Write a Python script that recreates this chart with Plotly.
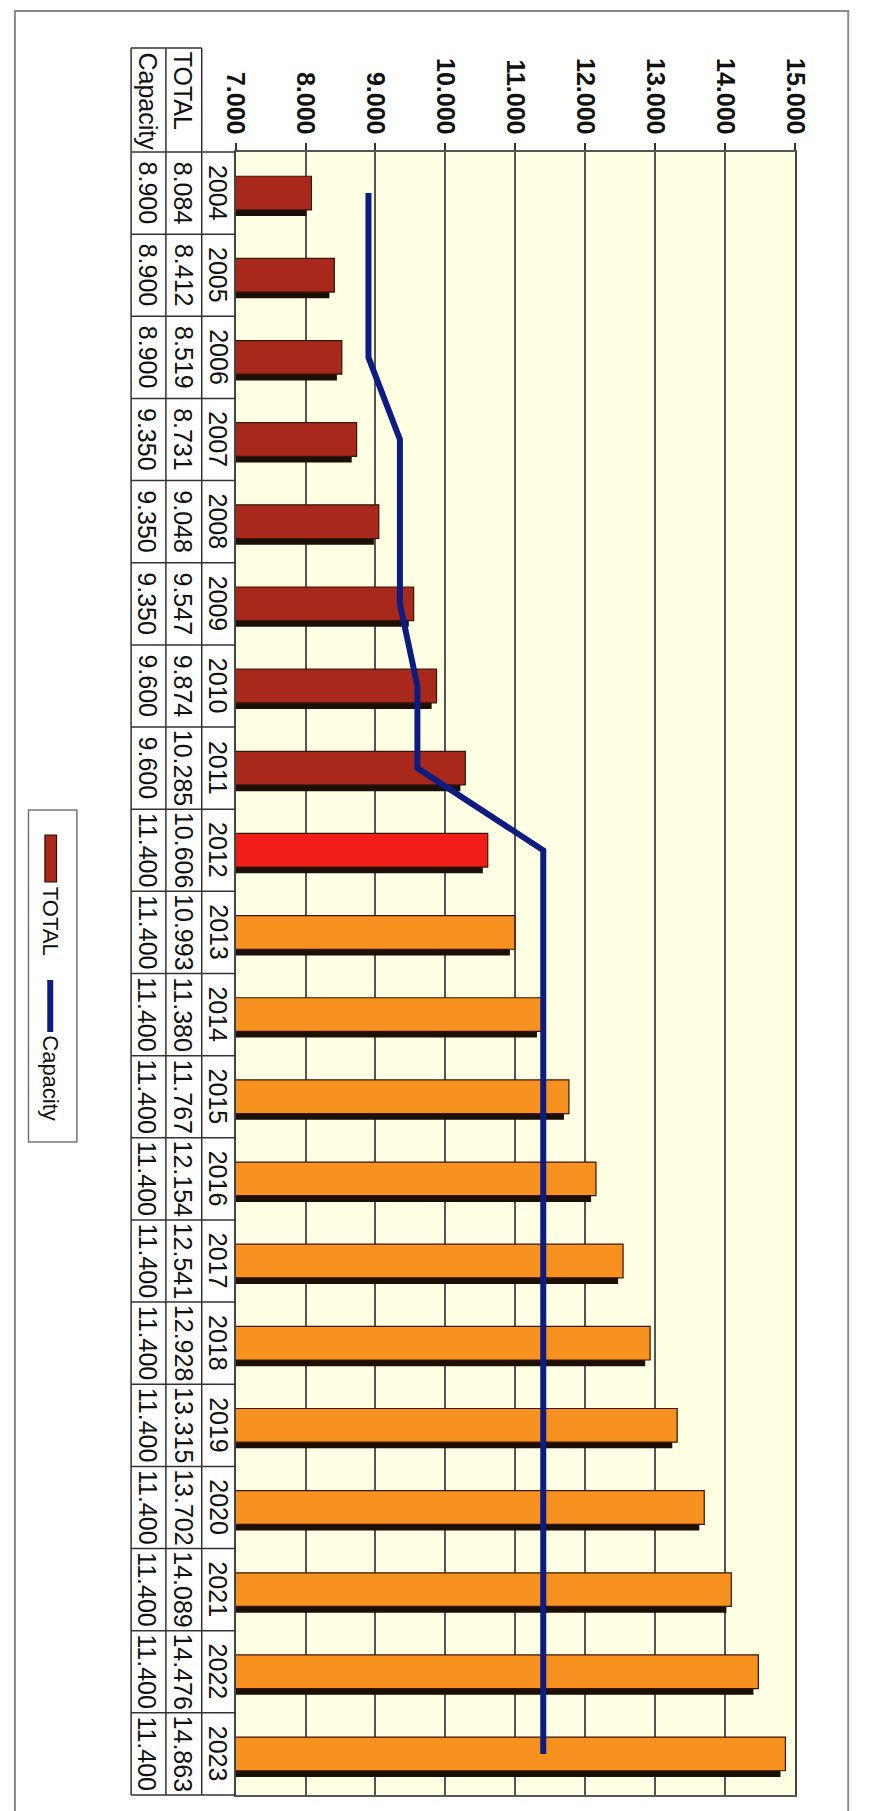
import plotly.graph_objects as go

# ---------------- data ----------------
years = ["2004", "2005", "2006", "2007", "2008", "2009", "2010", "2011", "2012", "2013",
         "2014", "2015", "2016", "2017", "2018", "2019", "2020", "2021", "2022", "2023"]
total = [8.084, 8.412, 8.519, 8.731, 9.048, 9.547, 9.874, 10.285, 10.606, 10.993,
         11.380, 11.767, 12.154, 12.541, 12.928, 13.315, 13.702, 14.089, 14.476, 14.863]
capacity = [8.900, 8.900, 8.900, 9.350, 9.350, 9.350, 9.600, 9.600, 11.400, 11.400,
            11.400, 11.400, 11.400, 11.400, 11.400, 11.400, 11.400, 11.400, 11.400, 11.400]
tick_vals = [7, 8, 9, 10, 11, 12, 13, 14, 15]
tick_text = ["7.000", "8.000", "9.000", "10.000", "11.000", "12.000", "13.000", "14.000", "15.000"]

# ---------------- style ----------------
DARK_RED = "#A8281C"
RED = "#F01E16"
ORANGE = "#F7911F"
NAVY = "#0C1C80"
bar_colors = [DARK_RED] * 8 + [RED] + [ORANGE] * 11

W, H = 870, 1811
PL, PR, PT, PB = 230, 808, 152, 1795   # plot area in pixels
FONT = "Liberation Sans, Arial, sans-serif"


def px(x):
    return x / W


def py(y):
    return 1 - y / H


fig = go.Figure()

# shadow bars (drawn on a hidden, slightly shifted axis)
fig.add_trace(go.Bar(
    x=total, y=years, orientation="h", xaxis="x", yaxis="y",
    marker=dict(color="#1c0f06", line=dict(width=0)),
    width=0.41, offset=-0.205 + 0.075, showlegend=False, hoverinfo="skip"))

# main bars
fig.add_trace(go.Bar(
    x=total, y=years, orientation="h", xaxis="x2", yaxis="y", name="TOTAL",
    marker=dict(color=bar_colors, line=dict(width=1.2, color="#3a1408")),
    width=0.41, offset=-0.205, showlegend=False))

# capacity line
fig.add_trace(go.Scatter(
    x=capacity, y=years, xaxis="x2", yaxis="y", mode="lines", name="Capacity",
    line=dict(color=NAVY, width=6), showlegend=False))

shapes = []
annotations = []

# outer frame
shapes.append(dict(type="rect", xref="paper", yref="paper",
                   x0=px(2), x1=px(863), y0=py(1815), y1=py(11),
                   line=dict(color="#8a8a8a", width=2), fillcolor="rgba(0,0,0,0)"))

# data table
TL, C1, C2, C3 = 122, 158, 195, PL
TT = 48
line_style = dict(color="#333333", width=1.5)
for xv in (TL, C1, C2):
    shapes.append(dict(type="line", xref="paper", yref="paper",
                       x0=px(xv), x1=px(xv), y0=py(TT), y1=py(PB), line=line_style))
shapes.append(dict(type="line", xref="paper", yref="paper",
                   x0=px(TL), x1=px(C2), y0=py(TT), y1=py(TT), line=line_style))
n = len(years)
row_h = (PB - PT) / n
for i in range(n + 1):
    yy = PT + i * row_h
    shapes.append(dict(type="line", xref="paper", yref="paper",
                       x0=px(TL), x1=px(C3), y0=py(yy), y1=py(yy), line=line_style))

cell_font = dict(family=FONT, size=25, color="#111111")
head_font = dict(family=FONT, size=25, color="#111111")
annotations.append(dict(text="TOTAL", xref="paper", yref="paper", x=px(176), y=py(50),
                        xanchor="center", yanchor="top", textangle=90, showarrow=False,
                        font=head_font))
annotations.append(dict(text="Capacity", xref="paper", yref="paper", x=px(139), y=py(50),
                        xanchor="center", yanchor="top", textangle=90, showarrow=False,
                        font=head_font))
for i, (yr, t, c) in enumerate(zip(years, total, capacity)):
    yc = py(PT + (i + 0.5) * row_h)
    annotations.append(dict(text=yr, xref="paper", yref="paper", x=px(212), y=yc,
                            xanchor="center", yanchor="middle", textangle=90,
                            showarrow=False, font=cell_font))
    annotations.append(dict(text=f"{t:.3f}", xref="paper", yref="paper", x=px(176), y=yc,
                            xanchor="center", yanchor="middle", textangle=90,
                            showarrow=False, font=cell_font))
    annotations.append(dict(text=f"{c:.3f}", xref="paper", yref="paper", x=px(139), y=yc,
                            xanchor="center", yanchor="middle", textangle=90,
                            showarrow=False, font=cell_font))

# legend (drawn rotated like the rest of the chart)
shapes.append(dict(type="rect", xref="paper", yref="paper",
                   x0=px(16), x1=px(66), y0=py(1142), y1=py(810),
                   line=dict(color="#777777", width=1.5), fillcolor="white"))
shapes.append(dict(type="rect", xref="paper", yref="paper",
                   x0=px(33), x1=px(45), y0=py(882), y1=py(835),
                   line=dict(color="#2a0e05", width=1.2), fillcolor=DARK_RED))
shapes.append(dict(type="line", xref="paper", yref="paper",
                   x0=px(38.5), x1=px(38.5), y0=py(1032), y1=py(980),
                   line=dict(color=NAVY, width=6)))
leg_font = dict(family=FONT, size=22, color="#111111")
annotations.append(dict(text="TOTAL", xref="paper", yref="paper", x=px(39), y=py(885),
                        xanchor="center", yanchor="top", textangle=90, showarrow=False,
                        font=leg_font))
annotations.append(dict(text="Capacity", xref="paper", yref="paper", x=px(39), y=py(1033),
                        xanchor="center", yanchor="top", textangle=90, showarrow=False,
                        font=leg_font))

fig.update_layout(
    width=W, height=H, autosize=False,
    margin=dict(l=0, r=0, t=0, b=0),
    paper_bgcolor="white", plot_bgcolor="#FFFFE3",
    barmode="overlay", showlegend=False,
    xaxis=dict(domain=[px(PL), px(PR)], range=[7.07, 15.07], visible=False,
               fixedrange=True),
    xaxis2=dict(overlaying="x", anchor="y", side="top", range=[7, 15],
                tickmode="array", tickvals=tick_vals, ticktext=tick_text,
                tickangle=90, ticks="outside", ticklen=7, tickcolor="#333333",
                tickwidth=1.5,
                tickfont=dict(family=FONT, size=25, color="#111111", weight="bold"),
                showgrid=True, gridcolor="#555555", gridwidth=1.5,
                showline=True, linecolor="#555555", linewidth=1.5, mirror=True,
                zeroline=False),
    yaxis=dict(domain=[py(PB), py(PT)], type="category", range=[n - 0.5, -0.5],
               showticklabels=False, ticks="", showgrid=False, zeroline=False,
               showline=True, linecolor="#444444", linewidth=1.5, mirror=True),
    shapes=shapes, annotations=annotations,
)

fig.write_html("out.html", config={"displayModeBar": False},
               post_script="document.body.style.margin='0px';document.body.style.overflow='hidden';")
